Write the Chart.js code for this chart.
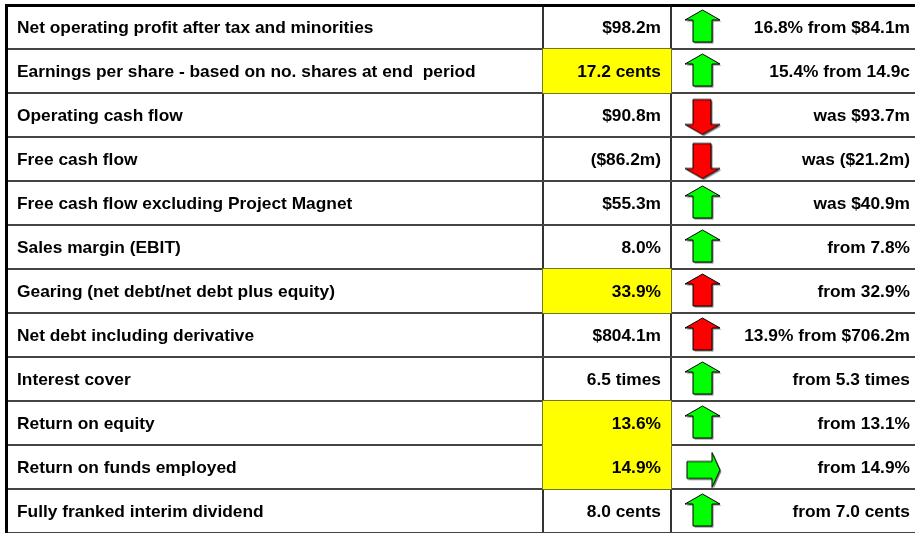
<!DOCTYPE html>
<html>
<head>
<meta charset="utf-8">
<script src="https://cdn.jsdelivr.net/npm/chart.js@4"></script>
<style>
  html, body { margin: 0; padding: 0; background: #fff; }
  #wrap { width: 915px; height: 533px; position: relative; }
</style>
</head>
<body>
<div id="wrap"><canvas id="tbl"></canvas></div>
<script>
// table contents
var labels = [
  'Net operating profit after tax and minorities',
  'Earnings per share - based on no. shares at end  period',
  'Operating cash flow',
  'Free cash flow',
  'Free cash flow excluding Project Magnet',
  'Sales margin (EBIT)',
  'Gearing (net debt/net debt plus equity)',
  'Net debt including derivative',
  'Interest cover',
  'Return on equity',
  'Return on funds employed',
  'Fully franked interim dividend'
];
var values = ['$98.2m', '17.2 cents', '$90.8m', '($86.2m)', '$55.3m', '8.0%',
  '33.9%', '$804.1m', '6.5 times', '13.6%', '14.9%', '8.0 cents'];
var changes = ['16.8% from $84.1m', '15.4% from 14.9c', 'was $93.7m', 'was ($21.2m)',
  'was $40.9m', 'from 7.8%', 'from 32.9%', '13.9% from $706.2m', 'from 5.3 times',
  'from 13.1%', 'from 14.9%', 'from 7.0 cents'];
var trend = ['up', 'up', 'down', 'down', 'up', 'up', 'up', 'up', 'up', 'up', 'flat', 'up'];
var good = [true, true, false, false, true, true, false, false, true, true, true, true];
var highlight = [false, true, false, false, false, false, true, false, false, true, true, false];

// column layout (x units = pixels from the table's left edge)
var colValue = [537, 665];
var arrowX = 696.5;
var textLeft = 11, valueRight = 655, changeRight = 904;
var squeeze = 1.02;

function makeArrow(kind, color) {
  var pts, w, h, dx = 0, dy = 0;
  if (kind == 'up') {
    w = 35; h = 32; dy = -1;
    pts = [[17.5,0],[35,10],[27,10],[27,32],[8,32],[8,10],[0,10]];
  } else if (kind == 'down') {
    w = 35; h = 35; dy = 2;
    pts = [[8,0],[26,0],[26,25],[35,25],[17.5,35],[0,25],[8,25]];
  } else {
    w = 33; h = 35; dx = 1; dy = 3;
    pts = [[0,9],[25,9],[25,0],[33,17.5],[25,35],[25,26],[0,26]];
  }
  var c = document.createElement('canvas');
  c.width = w + 8 + 2 * Math.abs(dx);
  c.height = h + 8 + 2 * Math.abs(dy);
  var g = c.getContext('2d');
  var ox = c.width / 2 + dx - w / 2, oy = c.height / 2 + dy - h / 2;
  function path(sx, sy) {
    g.beginPath();
    pts.forEach(function(p, i) {
      if (i == 0) g.moveTo(ox + sx + p[0], oy + sy + p[1]);
      else g.lineTo(ox + sx + p[0], oy + sy + p[1]);
    });
    g.closePath();
  }
  path(1.5, 1.5);
  g.fillStyle = '#808080';
  g.fill();
  path(0, 0);
  g.fillStyle = color;
  g.fill();
  g.lineWidth = 1;
  g.strokeStyle = '#000';
  g.stroke();
  return c;
}

var arrowImgs = trend.map(function(t, i) {
  return makeArrow(t, good[i] ? '#00FF00' : '#FF0000');
});

var cellText = {
  id: 'cellText',
  afterDraw: function(chart) {
    var ctx = chart.ctx;
    var x = chart.scales.x, y = chart.scales.y;
    ctx.save();
    ctx.fillStyle = '#000';
    ctx.font = 'bold 17px "Liberation Sans", Arial, sans-serif';
    function put(txt, px, py, align) {
      ctx.save();
      ctx.translate(px, py);
      ctx.scale(squeeze, 1);
      ctx.textAlign = align;
      ctx.textBaseline = 'alphabetic';
      ctx.fillText(txt, 0, 0);
      ctx.restore();
    }
    labels.forEach(function(l, i) {
      var py = y.getPixelForValue(i) + 6;
      put(l, x.getPixelForValue(textLeft), py, 'left');
      put(values[i], x.getPixelForValue(valueRight), py, 'right');
      put(changes[i], x.getPixelForValue(changeRight), py, 'right');
    });
    ctx.restore();
  }
};

new Chart(document.getElementById('tbl'), {
  type: 'bar',
  data: {
    labels: labels,
    datasets: [
      {
        type: 'bar',
        indexAxis: 'y',
        data: highlight.map(function(h) { return h ? colValue : null; }),
        backgroundColor: '#FFFF00',
        borderWidth: 0,
        barPercentage: 1,
        categoryPercentage: 1
      },
      {
        type: 'scatter',
        data: labels.map(function(l, i) { return {x: arrowX, y: i}; }),
        pointStyle: arrowImgs,
        pointRadius: 10,
        showLine: false
      }
    ]
  },
  options: {
    responsive: true,
    maintainAspectRatio: false,
    devicePixelRatio: 1,
    animation: false,
    events: [],
    indexAxis: 'y',
    layout: { autoPadding: false, padding: { left: 6, top: 5, right: 0, bottom: 0 } },
    plugins: { legend: { display: false }, tooltip: { enabled: false } },
    scales: {
      x: {
        type: 'linear',
        position: 'top',
        min: 0,
        max: 909,
        z: 1,
        afterBuildTicks: function(s) { s.ticks = colValue.map(function(v) { return {value: v}; }); },
        afterFit: function(s) { s.height = 0; },
        ticks: { display: false },
        grid: { color: '#333', lineWidth: 2, drawTicks: false },
        border: { color: '#000', width: 3 }
      },
      y: {
        type: 'category',
        position: 'left',
        offset: true,
        z: 1,
        afterFit: function(s) { s.width = 0; },
        ticks: { display: false },
        grid: {
          offset: true,
          drawTicks: false,
          color: function(c) { return c.index == 0 ? '#000' : '#444'; },
          lineWidth: function(c) { return c.index == 0 ? 3 : 2; }
        },
        border: { color: '#000', width: 3 }
      }
    }
  },
  plugins: [cellText]
});
</script>
</body>
</html>
